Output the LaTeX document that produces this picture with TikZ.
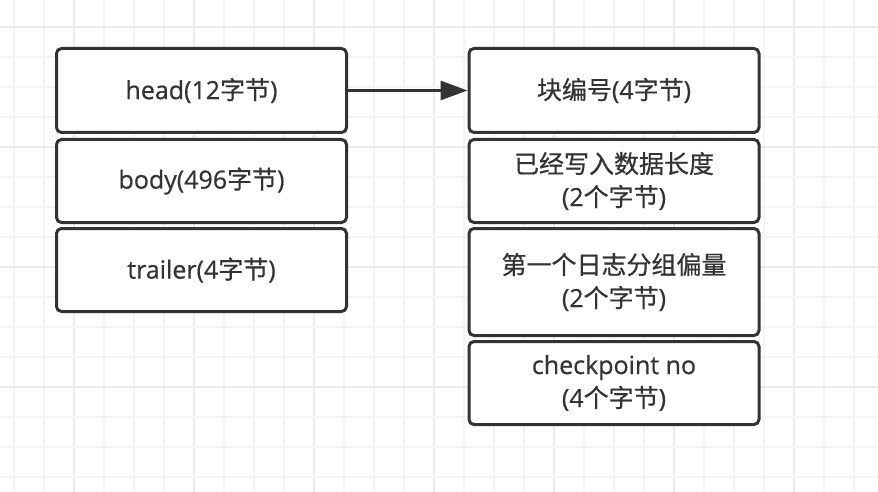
\documentclass[tikz,border=0pt]{standalone}
\usepackage{fontspec}
\setmainfont{Open Sans}[FakeBold = 0.6]
\newfontfamily\cjk{Noto Sans CJK SC}[FakeBold = 0.6]
\newcommand{\zh}[1]{{\cjk #1}}
\usetikzlibrary{arrows.meta}
\definecolor{ink}{HTML}{333333}
\definecolor{gridminor}{HTML}{F4F4F4}
\definecolor{gridmajor}{HTML}{EBEBEB}
\tikzset{
    cell/.style = {draw = ink, line width = 3pt, rounded corners = 5pt, fill = white,
        minimum width = 290pt, inner sep = 0pt, align = center, text = ink,
        font = \fontsize{25}{33}\selectfont},
    link/.style = {draw = ink, line width = 3pt, -{Triangle[length = 27pt, width = 19pt]}}
}
\begin{document}
\begin{tikzpicture}[x = 1pt, y = -1pt]
        \useasboundingbox[fill = white] (0, 0) rectangle (878, 492);
        % grid
        \foreach \k in {0, ..., 28} {
            \pgfmathtruncatemacro{\m}{mod(\k, 4)}
            \ifnum\m=2 \def\gc{gridmajor}\else \def\gc{gridminor}\fi
            \draw[\gc, line width = 1.2pt] (14 + 30*\k, 0) -- (14 + 30*\k, 492);
        }
        \foreach \k in {0, ..., 15} {
            \pgfmathtruncatemacro{\m}{mod(\k, 4)}
            \ifnum\m=0 \def\gc{gridmajor}\else \def\gc{gridminor}\fi
            \draw[\gc, line width = 1.2pt] (0, 27 + 30*\k) -- (878, 27 + 30*\k);
        }
        % left column
        \node[cell, minimum height = 84pt] (head) at (201.5, 90.5) {head(12\zh{字节})};
        \node[cell, minimum height = 83pt] (body) at (201.5, 181) {body(496\zh{字节})};
        \node[cell, minimum height = 83pt] (trailer) at (201.5, 270) {trailer(4\zh{字节})};
        % right column
        \node[cell, minimum height = 84pt] (blockno) at (614, 90.5) {\zh{块编号}(4\zh{字节})};
        \node[cell, minimum height = 83pt] (written) at (614, 181) {\zh{已经写入数据长度}\\(2\zh{个字节})};
        \node[cell, minimum height = 107pt] (groupoff) at (614, 282) {\zh{第一个日志分组偏量}\\(2\zh{个字节})};
        \node[cell, minimum height = 83pt] (ckpt) at (614, 383) {checkpoint no\\(4\zh{个字节})};
        \draw[link] (head.east) -- (blockno.west);
    \end{tikzpicture}
\end{document}
